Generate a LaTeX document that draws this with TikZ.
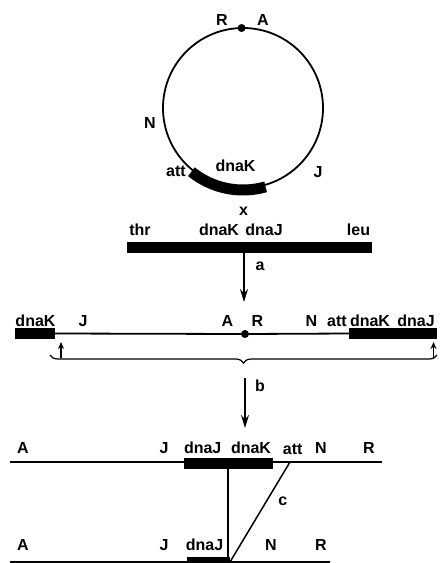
\documentclass[tikz,border=0pt]{standalone}
\usepackage{fontspec}
\setmainfont{Liberation Sans}
\usetikzlibrary{arrows.meta,decorations.pathreplacing}
\begin{document}
\begin{tikzpicture}[x=1pt,y=-1pt,
  lbl/.style={font=\fontsize{16}{16}\selectfont\bfseries, inner sep=0pt, anchor=base},
  strand/.style={line width=1.8pt},
  bar/.style={fill=black, draw=none, inner sep=0pt, minimum height=11pt},
  dotn/.style={circle, fill=black, inner sep=0pt, minimum size=8pt},
  conv/.style={line width=1.6pt, -{Stealth[length=13pt,width=8pt]}},
  tick/.style={line width=1.3pt, -{Stealth[length=7pt,width=6pt]}},
]
\useasboundingbox (0,0) rectangle (440,563);

% --- circular phage genome ---
\coordinate (C) at (243,108);
\draw[strand] (C) circle[radius=80pt];
\draw[line width=11pt] ([shift={(231:82pt)}]C) arc[start angle=231, end angle=286, radius=82pt];
\node[dotn] (cdot) at ([shift={(91:80pt)}]C) {};
\node[lbl] (cR) at (222,25) {R};
\node[lbl] (cA) at (263,25) {A};
\node[lbl] (cN) at (150,128.5) {N};
\node[lbl] (catt) at (176,176) {att};
\node[lbl] (cdnaK) at (235.5,171.5) {dnaK};
\node[lbl] (cJ) at (318,177) {J};
\node[lbl] (cx) at (243.5,215) {x};

% --- host chromosome ---
\node[bar, minimum width=245pt] (chrom) at (249.5,247.5) {};
\node[lbl] (thr) at (140,235) {thr};
\node[lbl] (hdnaK) at (219,235) {dnaK};
\node[lbl] (hdnaJ) at (264,235) {dnaJ};
\node[lbl] (leu) at (358.5,235) {leu};

% step a
\coordinate (aend) at (244,302);
\draw[conv] (chrom.south -| aend) -- (aend);
\node[lbl] (la) at (260,270) {a};

% --- linear intermediate ---
\node[bar, minimum width=40pt] (lbox) at (35,333.5) {};
\node[bar, minimum width=88pt] (rbox) at (393,333.5) {};
\node[dotn] (mdot) at (245,334) {};
\draw[strand] (lbox.east) -- (mdot) -- (rbox.west);
\node[lbl] (mdnaK1) at (35.5,326.5) {dnaK};
\node[lbl] (mJ) at (83,326.5) {J};
\node[lbl] (mA) at (227.5,326.5) {A};
\node[lbl] (mR) at (257.5,326.5) {R};
\node[lbl] (mN) at (311.5,326.5) {N};
\node[lbl] (matt) at (337,326.5) {att};
\node[lbl] (mdnaK2) at (370,326.5) {dnaK};
\node[lbl] (mdnaJ) at (416,326.5) {dnaJ};

% cut sites and brace
\coordinate (tl) at (61,358);
\coordinate (tr) at (433.5,358);
\draw[tick] (tl) -- (61,342);
\draw[tick] (tr) -- (433.5,342);
\draw[line width=1.2pt, decorate, decoration={brace, mirror, amplitude=8pt}] (50,355) -- (437,355);

% step b
\coordinate (bstart) at (245,378);
\coordinate (bend) at (245,428);
\draw[conv] (bstart) -- (bend);
\node[lbl] (lb) at (260,391.5) {b};

% --- upper recombinant strand ---
\node[bar, minimum width=89pt] (ubox) at (228.5,463.5) {};
\coordinate (uL) at (10,462);
\coordinate (uR) at (382,462);
\draw[strand] (uL) -- (uR);
\node[lbl] (uA) at (23,453) {A};
\node[lbl] (uJ) at (164,453) {J};
\node[lbl] (udnaJ) at (202.7,453) {dnaJ};
\node[lbl] (udnaK) at (251,453) {dnaK};
\node[lbl] (uatt) at (292.7,454) {att};
\node[lbl] (uN) at (321,453) {N};
\node[lbl] (uR2) at (369,453) {R};

% --- lower strand ---
\node[bar, minimum width=43pt] (lbbox) at (208,562) {};
\coordinate (dL) at (10,562);
\coordinate (dR) at (330,562);
\draw[strand] (dL) -- (dR);
\node[lbl] (dA) at (23,550) {A};
\node[lbl] (dJ) at (164,550) {J};
\node[lbl] (ddnaJ) at (204.5,550) {dnaJ};
\node[lbl] (dN) at (271,550) {N};
\node[lbl] (dR2) at (321,550) {R};

% connections between the two strands
\coordinate (vtop) at (228,469);
\coordinate (vbot) at (228,562);
\draw[line width=1.5pt] (vtop) -- (vbot);
\coordinate (ctop) at (290,462);
\coordinate (cbot) at (230,562);
\draw[line width=1.5pt] (ctop) -- (cbot);
\node[lbl] (lc) at (282.7,505) {c};
\end{tikzpicture}
\end{document}
